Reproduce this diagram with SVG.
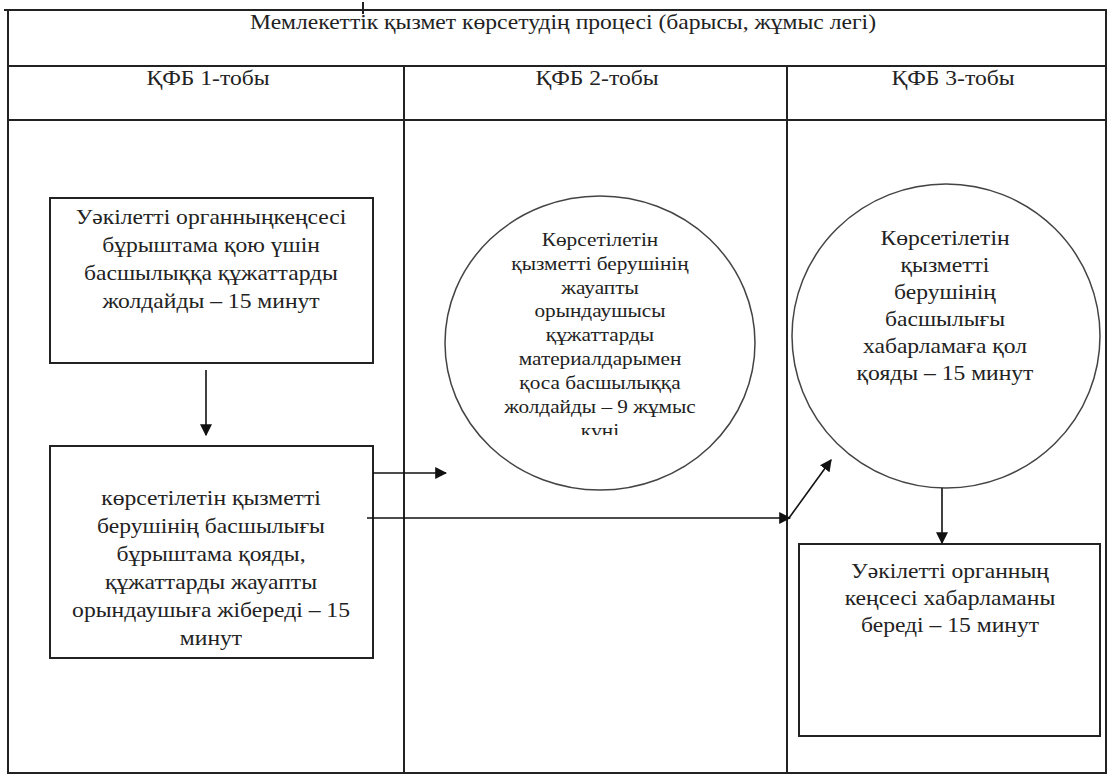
<svg xmlns="http://www.w3.org/2000/svg" width="1107" height="775" viewBox="0 0 1107 775">
<defs>
<style>
.t{font-family:'Liberation Serif','Times New Roman',serif;font-size:20px;fill:#222;text-anchor:middle}
.ts{font-family:'Liberation Serif','Times New Roman',serif;font-size:18.5px;fill:#222;text-anchor:middle}
.grid{stroke:#222;stroke-width:2;fill:none}
.box{stroke:#222;stroke-width:2;fill:#fff}
.circ{stroke:#444;stroke-width:1.5;fill:#fff}
.conn{stroke:#111;stroke-width:1.6;fill:none}
</style>
<marker id="ahb" viewBox="0 0 10 10" refX="9" refY="5" markerWidth="12" markerHeight="12" markerUnits="userSpaceOnUse" orient="auto">
<path d="M0,0 L10,5 L0,10 z" fill="#111"/>
</marker>
<clipPath id="c1clip"><rect x="440" y="190" width="320" height="245"/></clipPath>
</defs>
<rect width="1107" height="775" fill="#fff"/>
<g id="table">
<line class="grid" x1="363" y1="2" x2="363" y2="14"/>
<line class="grid" x1="4" y1="10" x2="1107" y2="10"/>
<line class="grid" x1="8" y1="10" x2="8" y2="774"/>
<line class="grid" x1="1106" y1="10" x2="1106" y2="774"/>
<line class="grid" x1="8" y1="773" x2="1107" y2="773"/>
<line class="grid" x1="8" y1="66" x2="1107" y2="66"/>
<line class="grid" x1="8" y1="120" x2="1107" y2="120"/>
<line class="grid" x1="404" y1="66" x2="404" y2="773"/>
<line class="grid" x1="787" y1="66" x2="787" y2="773"/>
<text class="t" transform="translate(563 0) scale(1.18 1)" x="0" y="29">Мемлекеттік қызмет көрсетудің процесі (барысы, жұмыс легі)</text>
<text class="t" transform="translate(208 0) scale(1.18 1)" x="0" y="85">ҚФБ 1-тобы</text>
<text class="t" transform="translate(597 0) scale(1.18 1)" x="0" y="85">ҚФБ 2-тобы</text>
<text class="t" transform="translate(953 0) scale(1.18 1)" x="0" y="85">ҚФБ 3-тобы</text>
</g>
<g id="node1">
<rect class="box" x="50" y="198" width="323" height="165"/>
<text class="t" transform="translate(211 0) scale(1.18 1)"><tspan x="0" y="224">Уәкілетті органныңкеңсесі</tspan><tspan x="0" y="252">бұрыштама қою үшін</tspan><tspan x="0" y="280">басшылыққа құжаттарды</tspan><tspan x="0" y="308">жолдайды – 15 минут</tspan></text>
</g>
<g id="node2">
<rect class="box" x="50" y="446" width="323" height="212"/>
<text class="t" transform="translate(211 0) scale(1.18 1)"><tspan x="0" y="505">көрсетілетін қызметті</tspan><tspan x="0" y="533">берушінің басшылығы</tspan><tspan x="0" y="561">бұрыштама қояды,</tspan><tspan x="0" y="589">құжаттарды жауапты</tspan><tspan x="0" y="617">орындаушыға жібереді – 15</tspan><tspan x="0" y="645">минут</tspan></text>
</g>
<g id="node3">
<ellipse class="circ" cx="600" cy="343" rx="155" ry="147"/>
<g clip-path="url(#c1clip)">
<text class="ts" transform="translate(600 0) scale(1.15 1)"><tspan x="0" y="246">Көрсетілетін</tspan><tspan x="0" y="270">қызметті берушінің</tspan><tspan x="0" y="294">жауапты</tspan><tspan x="0" y="317">орындаушысы</tspan><tspan x="0" y="341">құжаттарды</tspan><tspan x="0" y="365">материалдарымен</tspan><tspan x="0" y="389">қоса басшылыққа</tspan><tspan x="0" y="413">жолдайды – 9 жұмыс</tspan><tspan x="0" y="437">күні</tspan></text>
</g>
</g>
<g id="node4">
<ellipse class="circ" cx="946" cy="336" rx="154" ry="152"/>
<text class="t" transform="translate(945 0) scale(1.18 1)"><tspan x="0" y="245">Көрсетілетін</tspan><tspan x="0" y="272">қызметті</tspan><tspan x="0" y="299">берушінің</tspan><tspan x="0" y="326">басшылығы</tspan><tspan x="0" y="353">хабарламаға қол</tspan><tspan x="0" y="380">қояды  – 15 минут</tspan></text>
</g>
<g id="node5">
<rect class="box" x="799" y="544" width="301" height="192"/>
<text class="t" transform="translate(950 0) scale(1.18 1)"><tspan x="0" y="578">Уәкілетті органның</tspan><tspan x="0" y="605">кеңсесі хабарламаны</tspan><tspan x="0" y="632">береді – 15 минут</tspan></text>
</g>
<g id="connectors">
<line class="conn" x1="206" y1="370" x2="206" y2="435" marker-end="url(#ahb)"/>
<line class="conn" x1="373" y1="473" x2="446" y2="473" marker-end="url(#ahb)"/>
<line class="conn" x1="367" y1="518" x2="790" y2="518" marker-end="url(#ahb)"/>
<line class="conn" x1="789" y1="518" x2="831" y2="460" marker-end="url(#ahb)"/>
<line class="conn" x1="942" y1="488" x2="942" y2="543" marker-end="url(#ahb)"/>
</g>
</svg>
